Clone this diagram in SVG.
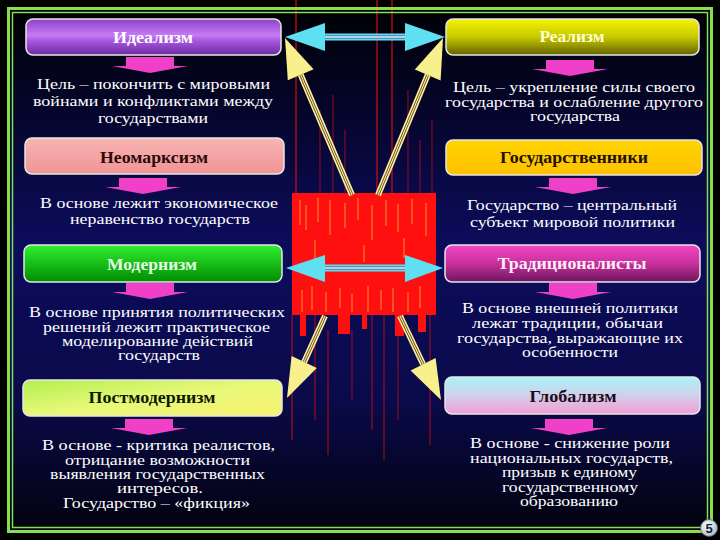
<svg xmlns="http://www.w3.org/2000/svg" width="720" height="540" viewBox="0 0 720 540">
<style>
.t{font-family:"Liberation Serif","Times New Roman",serif;font-size:13.8px;fill:#ffffff}
.h{font-family:"Liberation Serif","Times New Roman",serif;font-size:16px;font-weight:bold;text-anchor:middle}
.box{stroke:#e6e6e6;stroke-width:1.5}
.pa{fill:#f040c8}
.rl{stroke:#d01010;stroke-width:1.2;fill:none}
.st{stroke:#ffb030;stroke-width:1;opacity:0.8}
</style>
<defs>
<linearGradient id="bg" x1="0" y1="0" x2="0" y2="1">
<stop offset="0" stop-color="#000006"/>
<stop offset="0.45" stop-color="#0c0c5c"/>
<stop offset="0.75" stop-color="#0a0a4a"/>
<stop offset="1" stop-color="#02020e"/>
</linearGradient>
<linearGradient id="gIdeal" x1="0" y1="0" x2="0" y2="1">
<stop offset="0" stop-color="#8e40c8"/><stop offset="0.45" stop-color="#c47cf4"/><stop offset="0.6" stop-color="#a858e0"/><stop offset="1" stop-color="#6a2aa0"/>
</linearGradient>
<linearGradient id="gNeo" x1="0" y1="0" x2="0" y2="1">
<stop offset="0" stop-color="#f8b4b4"/><stop offset="1" stop-color="#f09494"/>
</linearGradient>
<linearGradient id="gMod" x1="0" y1="0" x2="0" y2="1">
<stop offset="0" stop-color="#30f030"/><stop offset="1" stop-color="#008c00"/>
</linearGradient>
<linearGradient id="gPost" x1="0" y1="0" x2="1" y2="1">
<stop offset="0" stop-color="#b0f050"/><stop offset="0.5" stop-color="#e8f878"/><stop offset="1" stop-color="#f8f070"/>
</linearGradient>
<linearGradient id="gReal" x1="0" y1="0" x2="0" y2="1">
<stop offset="0" stop-color="#f4f400"/><stop offset="0.5" stop-color="#c8c800"/><stop offset="1" stop-color="#626200"/>
</linearGradient>
<linearGradient id="gGos" x1="0" y1="0" x2="0" y2="1">
<stop offset="0" stop-color="#ffd400"/><stop offset="1" stop-color="#ffc000"/>
</linearGradient>
<linearGradient id="gTrad" x1="0" y1="0" x2="0" y2="1">
<stop offset="0" stop-color="#f448c4"/><stop offset="0.5" stop-color="#c8309c"/><stop offset="1" stop-color="#6c165c"/>
</linearGradient>
<linearGradient id="gGlob" x1="0" y1="0" x2="0" y2="1">
<stop offset="0" stop-color="#a8f4f8"/><stop offset="0.5" stop-color="#d0d0ec"/><stop offset="1" stop-color="#f49cd4"/>
</linearGradient>
<radialGradient id="gBadge" cx="0.4" cy="0.35" r="0.7">
<stop offset="0" stop-color="#ffffff"/><stop offset="1" stop-color="#a8b8c0"/>
</radialGradient>
<path id="pa" d="M-24,0 H24 V9 H38 L0,16 L-38,9 H-24 Z"/>
</defs>

<rect x="0" y="0" width="720" height="540" fill="#000000"/>
<rect x="8" y="8" width="704" height="524" fill="url(#bg)"/>

<!-- red central block -->
<g id="redblock">
<line class="rl" x1="296" y1="0" x2="296" y2="195" stroke-width="2"/>
<line class="rl" x1="377" y1="0" x2="377" y2="195" stroke-width="1.5"/>
<line class="rl" x1="392" y1="0" x2="392" y2="195" stroke-width="1.5"/>
<line class="rl" x1="320" y1="110" x2="320" y2="195" opacity="0.6"/>
<line class="rl" x1="333" y1="95" x2="333" y2="195" opacity="0.6"/>
<line class="rl" x1="345" y1="130" x2="345" y2="195" opacity="0.6"/>
<line class="rl" x1="408" y1="90" x2="408" y2="195" opacity="0.6"/>
<line class="rl" x1="420" y1="140" x2="420" y2="195" opacity="0.6"/>
<line class="rl" x1="432" y1="120" x2="432" y2="195" opacity="0.6"/>
<rect x="292" y="193" width="144" height="122" fill="#ff1010"/>
<rect x="300" y="314" width="6" height="22" fill="#ff1010"/>
<rect x="338" y="314" width="12" height="20" fill="#ff1010"/>
<rect x="362" y="314" width="5" height="15" fill="#ff1010"/>
<rect x="395" y="314" width="9" height="22" fill="#ff1010"/>
<rect x="418" y="314" width="8" height="18" fill="#ff1010"/>
<line class="rl" x1="292" y1="315" x2="292" y2="440" opacity="0.8"/>
<line class="rl" x1="315" y1="315" x2="315" y2="420" opacity="0.7"/>
<line class="rl" x1="328" y1="330" x2="328" y2="455" opacity="0.7"/>
<line class="rl" x1="352" y1="330" x2="352" y2="400" opacity="0.6"/>
<line class="rl" x1="372" y1="315" x2="372" y2="430" opacity="0.7"/>
<line class="rl" x1="384" y1="315" x2="384" y2="460" opacity="0.7"/>
<line class="rl" x1="398" y1="330" x2="398" y2="420" opacity="0.6"/>
<line class="rl" x1="430" y1="315" x2="430" y2="445" opacity="0.7"/>
<line class="st" x1="300" y1="200" x2="300" y2="225"/>
<line class="st" x1="306" y1="205" x2="306" y2="230"/>
<line class="st" x1="318" y1="198" x2="318" y2="222"/>
<line class="st" x1="330" y1="200" x2="330" y2="235"/>
<line class="st" x1="345" y1="203" x2="345" y2="228"/>
<line class="st" x1="358" y1="198" x2="358" y2="220"/>
<line class="st" x1="372" y1="205" x2="372" y2="240"/>
<line class="st" x1="386" y1="200" x2="386" y2="226"/>
<line class="st" x1="398" y1="204" x2="398" y2="232"/>
<line class="st" x1="412" y1="199" x2="412" y2="224"/>
<line class="st" x1="426" y1="203" x2="426" y2="236"/>
<line class="st" x1="315" y1="240" x2="315" y2="260"/>
<line class="st" x1="364" y1="245" x2="364" y2="262"/>
<line class="st" x1="404" y1="238" x2="404" y2="258"/>
<line class="st" x1="302" y1="290" x2="302" y2="312"/>
<line class="st" x1="312" y1="286" x2="312" y2="310"/>
<line class="st" x1="326" y1="292" x2="326" y2="312"/>
<line class="st" x1="340" y1="288" x2="340" y2="308"/>
<line class="st" x1="352" y1="294" x2="352" y2="312"/>
<line class="st" x1="368" y1="286" x2="368" y2="312"/>
<line class="st" x1="381" y1="290" x2="381" y2="310"/>
<line class="st" x1="393" y1="288" x2="393" y2="312"/>
<line class="st" x1="408" y1="292" x2="408" y2="312"/>
<line class="st" x1="420" y1="286" x2="420" y2="308"/>
</g>

<!-- frame -->
<rect x="8.5" y="8.5" width="703" height="523" fill="none" stroke="#86e04c" stroke-width="3"/>
<rect x="12.5" y="12.5" width="695" height="515" fill="none" stroke="#86e04c" stroke-width="1.5"/>

<!-- nodes left -->
<g id="idealizm">
<rect class="box" x="26" y="19" width="255" height="36" rx="7" fill="url(#gIdeal)"/>
<text class="h" x="153" y="43" fill="#ffffff" textLength="80" lengthAdjust="spacingAndGlyphs">Идеализм</text>
<use href="#pa" x="150" y="57" class="pa"/>
<text class="t" x="37" y="89" textLength="233" lengthAdjust="spacingAndGlyphs">Цель – покончить с мировыми</text>
<text class="t" x="33" y="106" textLength="240" lengthAdjust="spacingAndGlyphs">войнами и конфликтами между</text>
<text class="t" x="98" y="123" textLength="110" lengthAdjust="spacingAndGlyphs">государствами</text>
</g>
<g id="neomarxizm">
<rect class="box" x="25" y="138" width="259" height="36" rx="7" fill="url(#gNeo)"/>
<text class="h" x="154" y="163" fill="#2a0a0a" textLength="108" lengthAdjust="spacingAndGlyphs">Неомарксизм</text>
<use href="#pa" x="143" y="178" class="pa"/>
<text class="t" x="40" y="208" textLength="238" lengthAdjust="spacingAndGlyphs">В основе лежит экономическое</text>
<text class="t" x="70" y="224" textLength="180" lengthAdjust="spacingAndGlyphs">неравенство государств</text>
</g>
<g id="modernizm">
<rect class="box" x="24" y="245" width="258" height="37" rx="7" fill="url(#gMod)"/>
<text class="h" x="152" y="270" fill="#e4ffe4" textLength="90" lengthAdjust="spacingAndGlyphs">Модернизм</text>
<use href="#pa" x="150" y="283" class="pa"/>
<text class="t" x="29" y="317" textLength="256" lengthAdjust="spacingAndGlyphs">В основе принятия политических</text>
<text class="t" x="43" y="332" textLength="227" lengthAdjust="spacingAndGlyphs">решений лежит практическое</text>
<text class="t" x="62" y="346" textLength="191" lengthAdjust="spacingAndGlyphs">моделирование действий</text>
<text class="t" x="118" y="360" textLength="82" lengthAdjust="spacingAndGlyphs">государств</text>
</g>
<g id="postmodernizm">
<rect class="box" x="23" y="380" width="259" height="36" rx="7" fill="url(#gPost)"/>
<text class="h" x="152" y="403" fill="#0e1a00" textLength="127" lengthAdjust="spacingAndGlyphs">Постмодернизм</text>
<use href="#pa" x="149" y="419" class="pa"/>
<text class="t" x="42" y="450" textLength="233" lengthAdjust="spacingAndGlyphs">В основе - критика реалистов,</text>
<text class="t" x="65" y="465" textLength="185" lengthAdjust="spacingAndGlyphs">отрицание возможности</text>
<text class="t" x="50" y="479" textLength="215" lengthAdjust="spacingAndGlyphs">выявления государственных</text>
<text class="t" x="117" y="493" textLength="86" lengthAdjust="spacingAndGlyphs">интересов.</text>
<text class="t" x="63" y="508" textLength="187" lengthAdjust="spacingAndGlyphs">Государство – «фикция»</text>
</g>

<!-- nodes right -->
<g id="realizm">
<rect class="box" x="446" y="19" width="253" height="36" rx="7" fill="url(#gReal)"/>
<text class="h" x="572" y="42" fill="#ffffd0" textLength="65" lengthAdjust="spacingAndGlyphs">Реализм</text>
<use href="#pa" x="570" y="60" class="pa"/>
<text class="t" x="453" y="92" textLength="242" lengthAdjust="spacingAndGlyphs">Цель – укрепление силы своего</text>
<text class="t" x="445" y="107" textLength="258" lengthAdjust="spacingAndGlyphs">государства и ослабление другого</text>
<text class="t" x="530" y="121" textLength="90" lengthAdjust="spacingAndGlyphs">государства</text>
</g>
<g id="gosudarstvenniki">
<rect class="box" x="446" y="140" width="256" height="35" rx="7" fill="url(#gGos)"/>
<text class="h" x="574" y="163" fill="#201000" textLength="148" lengthAdjust="spacingAndGlyphs">Государственники</text>
<use href="#pa" x="573" y="178" class="pa"/>
<text class="t" x="467" y="210" textLength="210" lengthAdjust="spacingAndGlyphs">Государство – центральный</text>
<text class="t" x="470" y="227" textLength="205" lengthAdjust="spacingAndGlyphs">субъект мировой политики</text>
</g>
<g id="tradicionalisty">
<rect class="box" x="445" y="245" width="255" height="37" rx="7" fill="url(#gTrad)"/>
<text class="h" x="572" y="269" fill="#ffeefa" textLength="149" lengthAdjust="spacingAndGlyphs">Традиционалисты</text>
<use href="#pa" x="573" y="283" class="pa"/>
<text class="t" x="462" y="313" textLength="216" lengthAdjust="spacingAndGlyphs">В основе внешней политики</text>
<text class="t" x="472" y="328" textLength="191" lengthAdjust="spacingAndGlyphs">лежат традиции, обычаи</text>
<text class="t" x="457" y="343" textLength="226" lengthAdjust="spacingAndGlyphs">государства, выражающие их</text>
<text class="t" x="522" y="357" textLength="96" lengthAdjust="spacingAndGlyphs">особенности</text>
</g>
<g id="globalizm">
<rect class="box" x="445" y="377" width="255" height="37" rx="7" fill="url(#gGlob)"/>
<text class="h" x="573" y="402" fill="#1e0a18" textLength="87" lengthAdjust="spacingAndGlyphs">Глобализм</text>
<use href="#pa" x="569" y="419" class="pa"/>
<text class="t" x="470" y="448" textLength="200" lengthAdjust="spacingAndGlyphs">В основе - снижение роли</text>
<text class="t" x="470" y="463" textLength="203" lengthAdjust="spacingAndGlyphs">национальных государств,</text>
<text class="t" x="502" y="477" textLength="135" lengthAdjust="spacingAndGlyphs">призыв к единому</text>
<text class="t" x="502" y="492" textLength="136" lengthAdjust="spacingAndGlyphs">государственному</text>
<text class="t" x="520" y="506" textLength="98" lengthAdjust="spacingAndGlyphs">образованию</text>
</g>

<!-- connectors -->
<g id="connectors">
<g stroke-linecap="butt">
<line x1="352" y1="195" x2="300.7" y2="74.8" stroke="#fff4a0" stroke-width="6"/>
<line x1="352" y1="195" x2="300.7" y2="74.8" stroke="#7a5a20" stroke-width="3"/>
<line x1="352" y1="195" x2="300.7" y2="74.8" stroke="#fff8c8" stroke-width="1"/>
<line x1="378" y1="195" x2="427.7" y2="75" stroke="#fff4a0" stroke-width="6"/>
<line x1="378" y1="195" x2="427.7" y2="75" stroke="#7a5a20" stroke-width="3"/>
<line x1="378" y1="195" x2="427.7" y2="75" stroke="#fff8c8" stroke-width="1"/>
<line x1="325" y1="316" x2="304.2" y2="361.9" stroke="#fff4a0" stroke-width="6"/>
<line x1="325" y1="316" x2="304.2" y2="361.9" stroke="#7a5a20" stroke-width="3"/>
<line x1="325" y1="316" x2="304.2" y2="361.9" stroke="#fff8c8" stroke-width="1"/>
<line x1="400" y1="316" x2="423.1" y2="364.2" stroke="#fff4a0" stroke-width="6"/>
<line x1="400" y1="316" x2="423.1" y2="364.2" stroke="#7a5a20" stroke-width="3"/>
<line x1="400" y1="316" x2="423.1" y2="364.2" stroke="#fff8c8" stroke-width="1"/>
</g>
<g fill="#f8f08c">
<polygon points="285,38 313.6,69.3 287.8,80.3"/>
<polygon points="443,38 440.6,80.4 414.8,69.6"/>
<polygon points="287,398 316.8,367.9 291.6,355.9"/>
<polygon points="441,400 435.6,357.9 410.6,370.5"/>
</g>
<g>
<line x1="324" y1="37" x2="406" y2="37" stroke="#5ee0f2" stroke-width="7"/>
<line x1="324" y1="37" x2="406" y2="37" stroke="#2a4a90" stroke-width="3"/>
<line x1="324" y1="37" x2="406" y2="37" stroke="#e8ffff" stroke-width="1.5"/>
<polygon points="285,37 325,23 325,51" fill="#5ee0f2"/>
<polygon points="445,37 405,23 405,51" fill="#5ee0f2"/>
<line x1="324" y1="268" x2="406" y2="268" stroke="#5ee0f2" stroke-width="7"/>
<line x1="324" y1="268" x2="406" y2="268" stroke="#2a4a90" stroke-width="3"/>
<line x1="324" y1="268" x2="406" y2="268" stroke="#e8ffff" stroke-width="1.5"/>
<polygon points="286,268 325,255 325,282" fill="#5ee0f2"/>
<polygon points="443,268 405,255 405,282" fill="#5ee0f2"/>
</g>
</g>

<g id="badge">
<circle cx="709" cy="528" r="8.5" fill="url(#gBadge)" stroke="#506070" stroke-width="0.8"/>
<text x="709" y="532.5" text-anchor="middle" font-family="Liberation Sans, Arial, sans-serif" font-weight="bold" font-size="13" fill="#10203a">5</text>
</g>
</svg>
